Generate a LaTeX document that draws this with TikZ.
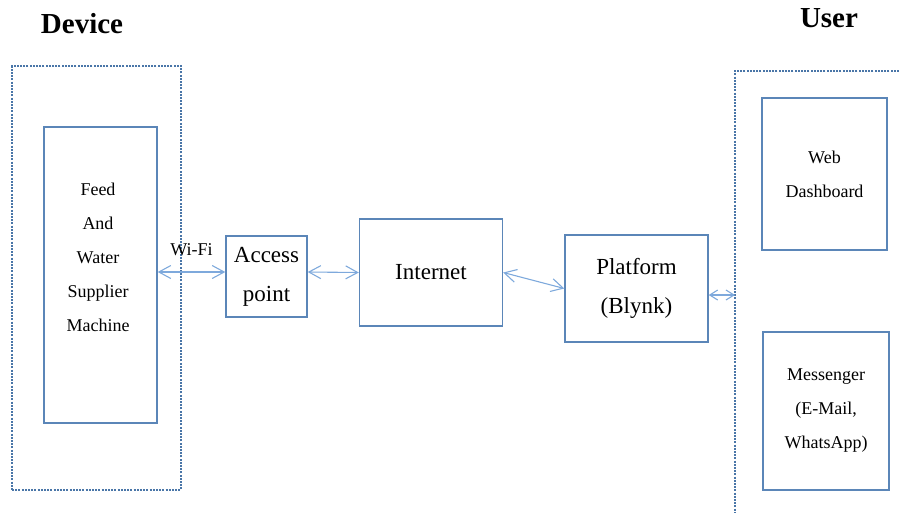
\documentclass[tikz,border=0pt]{standalone}
\usepackage{fontspec}
\setmainfont{Liberation Serif}
\usepackage{xcolor}
\usepackage{tikz}
\usetikzlibrary{arrows.meta, positioning, calc}

\definecolor{boxblue}{HTML}{5B86B8}
\definecolor{linkblue}{HTML}{7EA9DC}
\definecolor{groupblue}{HTML}{4A76A8}

\tikzset{
    unitbox/.style={draw=boxblue, line width=1.4pt, align=center, inner sep=0pt},
    groupbox/.style={draw=groupblue, line width=1.4pt, dash pattern=on 2pt off 1.2pt},
    link/.style={draw=linkblue, line width=1.1pt, {Straight Barb[length=12pt,width=13pt]}-{Straight Barb[length=12pt,width=13pt]}},
    smalltxt/.style={font=\fontsize{18}{34}\selectfont, align=center},
    bigtxt/.style={font=\fontsize{23}{39}\selectfont, align=center},
    title/.style={font=\fontsize{29}{32}\selectfont\bfseries}
}

\begin{document}
\begin{tikzpicture}[x=1pt, y=-1pt]
\useasboundingbox (0,0) rectangle (899,512);

% device side
\node[title] (devtitle) at (82,24) {Device};
\node[groupbox, minimum width=169pt, minimum height=424pt, inner sep=0pt] (devicebox) at (96.5,278) {};
\node[unitbox, minimum width=113pt, minimum height=296pt] (feed) at (100.5,275) {};
\node[smalltxt] (feedtxt) at (98,257) {Feed\\And\\Water\\Supplier\\Machine};

% network chain
\node[unitbox, bigtxt, minimum width=81pt, minimum height=81pt] (access) at (266.5,276.5) {Access\\point};
\node[unitbox, bigtxt, minimum width=143pt, minimum height=107pt] (internet) at (431,272.5) {Internet};
\node[unitbox, bigtxt, minimum width=143pt, minimum height=107pt] (platform) at (636.5,288.5) {Platform\\(Blynk)};

% user side
\node[title] (usertitle) at (829,18) {User};
\coordinate (usercorner) at (735,71);
\coordinate (useredge) at (735,295);
\draw[groupbox] (899,71) -- (usercorner) -- (735,512);
\node[unitbox, smalltxt, minimum width=125pt, minimum height=152pt] (web) at (824.5,174) {Web\\Dashboard};
\node[unitbox, smalltxt, minimum width=126pt, minimum height=158pt] (msg) at (826,411) {Messenger\\(E-Mail,\\WhatsApp)};

% links
\draw[link] ([yshift=3pt]feed.east) -- ([yshift=4.5pt]access.west)
    node[smalltxt, above, pos=0.5, yshift=12pt] (wifi) {Wi-Fi};
\draw[link] ([yshift=4.5pt]access.east) -- (internet.west);
\draw[link] (internet.east) -- (platform.west);
\draw[link, {Straight Barb[length=8pt,width=10pt]}-{Straight Barb[length=8pt,width=10pt]}] ([yshift=-6.5pt]platform.east) -- (useredge);
\end{tikzpicture}
\end{document}
